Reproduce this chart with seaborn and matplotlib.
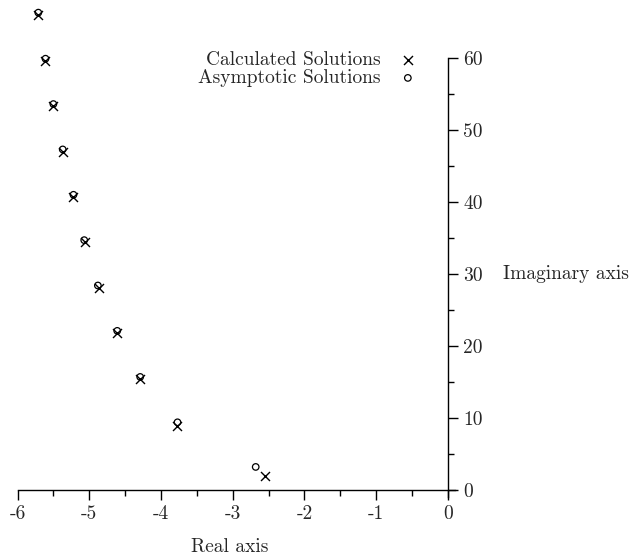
import matplotlib
matplotlib.use("Agg")
import matplotlib.pyplot as plt
import seaborn as sns
import pandas as pd
from matplotlib.ticker import FixedLocator

# Data
calc_real = [-5.71, -5.61, -5.50, -5.37, -5.22, -5.06, -4.87, -4.61, -4.29, -3.78, -2.55]
calc_imag = [66.0, 59.6, 53.3, 47.0, 40.7, 34.4, 28.1, 21.8, 15.4, 8.9, 1.9]
asym_real = [-5.71, -5.61, -5.50, -5.37, -5.22, -5.07, -4.88, -4.61, -4.29, -3.77, -2.68]
asym_imag = [66.3, 59.9, 53.6, 47.3, 41.0, 34.7, 28.4, 22.1, 15.7, 9.4, 3.2]
x_ticks = [-6, -5, -4, -3, -2, -1, 0]
y_ticks = [0, 10, 20, 30, 40, 50, 60]
x_minor = [-5.5, -4.5, -3.5, -2.5, -1.5, -0.5]
y_minor = [5, 15, 25, 35, 45, 55]

sns.set_style("white")
plt.rcParams["font.family"] = ["cmr10", "DejaVu Serif"]
plt.rcParams["axes.unicode_minus"] = False
plt.rcParams["mathtext.fontset"] = "cm"

calc = pd.DataFrame({"re": calc_real, "im": calc_imag})
asym = pd.DataFrame({"re": asym_real, "im": asym_imag})

fig = plt.figure(figsize=(6.32, 5.59), dpi=100)
ax = fig.add_axes([0.0277, 0.1106, 0.6925, 0.8887])

sns.scatterplot(data=calc, x="re", y="im", marker="x", s=42, color="black",
                linewidth=1.0, ax=ax, label="Calculated Solutions", clip_on=False)
sns.scatterplot(data=asym, x="re", y="im", marker="o", s=22, facecolor="none",
                edgecolor="black", linewidth=0.9, ax=ax, label="Asymptotic Solutions",
                clip_on=False)

ax.set_xlim(-6.0, 0.1)
ax.set_ylim(-1, 68)

for s in ["left", "top"]:
    ax.spines[s].set_visible(False)
ax.spines["right"].set_position(("data", 0))
ax.spines["bottom"].set_position(("data", 0))
ax.spines["right"].set_bounds(-1, 60)
ax.spines["bottom"].set_bounds(-6, 0.1)
for s in ["right", "bottom"]:
    ax.spines[s].set_linewidth(1.0)
    ax.spines[s].set_color("black")

ax.yaxis.tick_right()
ax.set_xticks(x_ticks)
ax.set_xticklabels([str(v) for v in x_ticks])
ax.set_yticks(y_ticks)
ax.set_yticklabels([str(v) for v in y_ticks])
ax.xaxis.set_minor_locator(FixedLocator(x_minor))
ax.yaxis.set_minor_locator(FixedLocator(y_minor))
ax.tick_params(axis="both", which="major", direction="out", length=7, width=1.0,
               color="black", labelsize=14, pad=4)
ax.tick_params(axis="both", which="minor", direction="out", length=4, width=1.0,
               color="black")
ax.tick_params(axis="y", which="both", left=False, right=True)
ax.tick_params(axis="x", which="both", bottom=True, top=False)

ax.set_xlabel("Real axis", fontsize=14, va="center")
ax.xaxis.set_label_coords(0.4855, -0.10)
ax.yaxis.set_label_position("right")
ax.set_ylabel("Imaginary axis", fontsize=14, rotation=0, ha="left", va="center")
ax.yaxis.set_label_coords(1.109, 0.449)

ax.legend(loc="upper right", bbox_to_anchor=(0.673, 0.926),
          bbox_transform=fig.transFigure, frameon=False, markerfirst=False,
          fontsize=14, handlelength=0.8, handletextpad=1.0, labelspacing=0.0,
          borderpad=0.0)

fig.savefig("out.png", dpi=100)
